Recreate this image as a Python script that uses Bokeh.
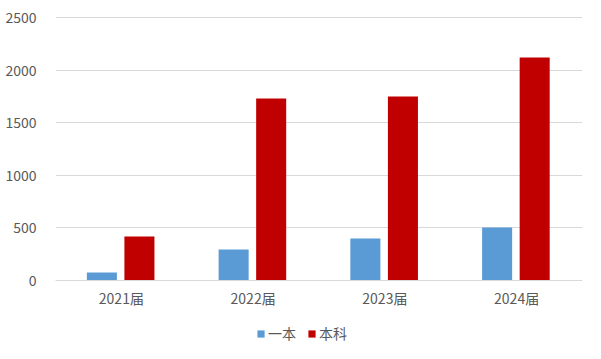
from bokeh.plotting import figure
from bokeh.models import FixedTicker, Legend, LegendItem, Range1d, ColumnDataSource
from bokeh.transform import dodge
from bokeh.embed import file_html
from bokeh.resources import INLINE

categories = ["2021届", "2022届", "2023届", "2024届"]
yiben = [76, 295, 399, 504]
benke = [418, 1730, 1749, 2120]
y_ticks = [0, 500, 1000, 1500, 2000, 2500]

FONT = "Noto Sans CJK SC"
TXT = "#595959"
GRID = "#d9d9d9"

src = ColumnDataSource(dict(cat=categories, yiben=yiben, benke=benke))

p = figure(x_range=categories, width=585, height=343, output_backend="svg",
           toolbar_location=None, min_border_left=55, min_border_right=3,
           min_border_top=16, min_border_bottom=0)
p.y_range = Range1d(-599, 2509.5)
p.x_range.range_padding = 0

r1 = p.vbar(x=dodge("cat", -0.148, range=p.x_range), top="yiben", width=0.228,
            source=src, color="#5B9BD5", line_color=None)
r2 = p.vbar(x=dodge("cat", 0.137, range=p.x_range), top="benke", width=0.228,
            source=src, color="#C00000", line_color=None)

p.outline_line_color = None
p.background_fill_color = "white"
p.border_fill_color = "white"

p.yaxis.ticker = FixedTicker(ticks=y_ticks)
p.yaxis.axis_line_color = None
p.yaxis.major_tick_line_color = None
p.yaxis.minor_tick_line_color = None
p.yaxis.major_label_standoff = 13
p.yaxis.major_label_text_font = FONT
p.yaxis.major_label_text_font_size = "14px"
p.yaxis.major_label_text_color = TXT

p.xaxis.fixed_location = 0
p.xaxis.axis_line_color = GRID
p.xaxis.major_tick_line_color = None
p.xaxis.minor_tick_line_color = None
p.xaxis.major_label_standoff = 2
p.xaxis.major_label_text_font = FONT
p.xaxis.major_label_text_font_size = "14px"
p.xaxis.major_label_text_color = TXT

p.xgrid.grid_line_color = None
p.ygrid.grid_line_color = GRID
p.ygrid.ticker = FixedTicker(ticks=y_ticks)

legend = Legend(items=[LegendItem(label="一本", renderers=[r1]),
                       LegendItem(label="本科", renderers=[r2])],
                orientation="horizontal", location=(201, 0),
                border_line_color=None, background_fill_alpha=0,
                label_text_font=FONT, label_text_font_size="14px",
                label_text_color=TXT, glyph_width=9, glyph_height=9,
                spacing=11, label_standoff=3, padding=0, margin=0)
p.add_layout(legend, "center")

open("out.html", "w").write(file_html(p, INLINE))
